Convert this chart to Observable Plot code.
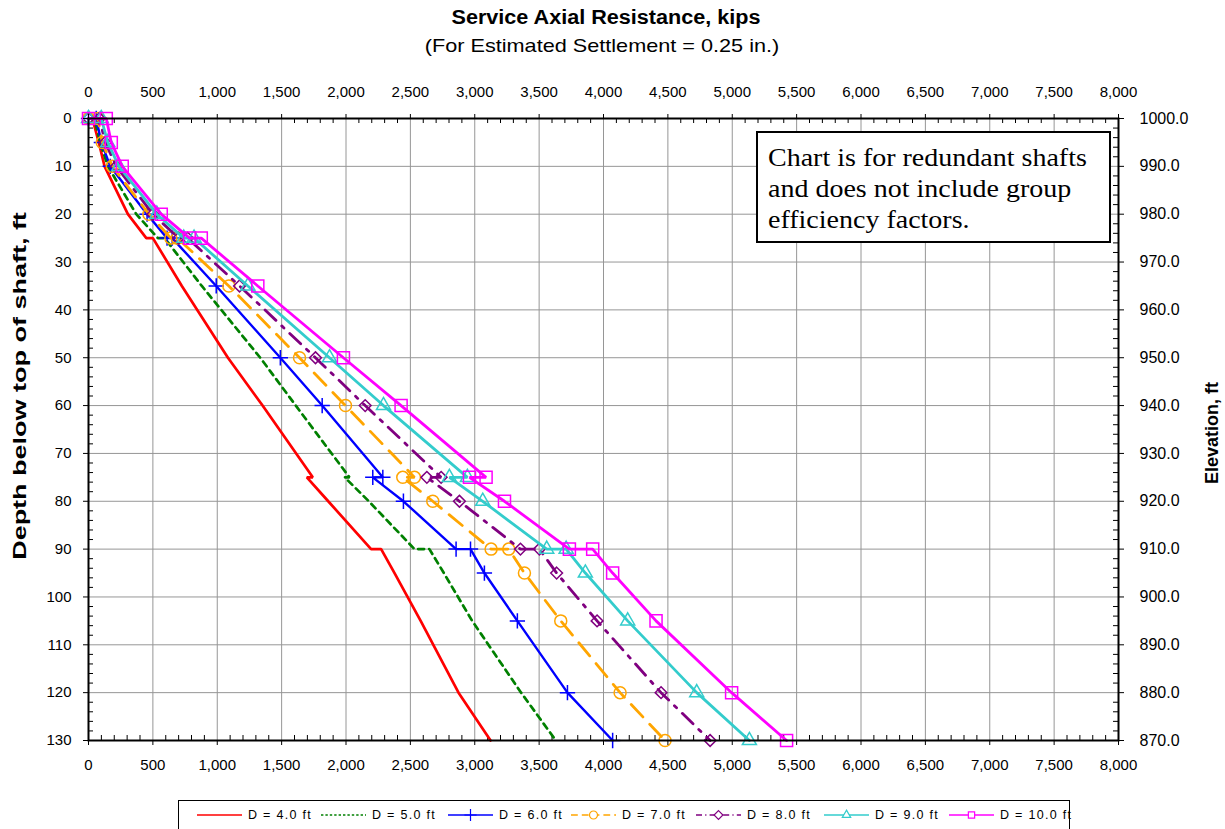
<!DOCTYPE html>
<html><head><meta charset="utf-8">
<script src="https://cdn.jsdelivr.net/npm/d3@7"></script>
<script src="https://cdn.jsdelivr.net/npm/@observablehq/plot@0.6"></script>
<style>
body{margin:0;background:#fff;font-family:"Liberation Sans",Arial,sans-serif;}
#wrap{position:relative;width:1225px;height:829px;overflow:hidden;background:#fff;}
#wrap svg.plot{position:absolute;left:0;top:0;}
.abs{position:absolute;white-space:nowrap;color:#000;}
#title{left:606px;top:17px;transform:translate(-50%,-50%) scale(1.08,1);font-weight:bold;font-size:20px;}
#subtitle{left:602px;top:46px;transform:translate(-50%,-50%) scale(1.14,1);font-size:19px;}
#ylab{left:20px;top:386px;transform:translate(-50%,-50%) rotate(-90deg) scale(1.42,1);font-weight:bold;font-size:19px;}
#ylab2{left:1212px;top:433px;transform:translate(-50%,-50%) rotate(-90deg);font-weight:bold;font-size:18px;}
#note{left:756px;top:131px;width:355px;height:112px;border:2px solid #000;background:#fff;font-family:"Liberation Serif","Times New Roman",serif;font-size:25px;line-height:31px;padding:9px 0 0 10px;box-sizing:border-box;}
#note span{display:inline-block;transform:scale(1.12,1);transform-origin:0 50%;}
#legend{left:178px;top:800px;width:892px;height:40px;border:1px solid #000;background:#fff;box-sizing:border-box;}
.li{position:absolute;top:6px;display:flex;align-items:center;font-size:12.5px;letter-spacing:1.3px;}
.li svg{margin-right:6px;}
</style></head><body><div id="wrap"></div>
<script>
// ---- data ----
const depthFt = [0, 0, 5, 10, 20, 25, 25, 35, 50, 60, 75, 75, 80, 90, 90, 95, 105, 120, 130];
const seriesNames = ["D = 4.0 ft", "D = 5.0 ft", "D = 6.0 ft", "D = 7.0 ft", "D = 8.0 ft", "D = 9.0 ft", "D = 10.0 ft"];
const kipsD4  = [0, 30, 80, 125, 306, 449, 500, 725, 1083, 1352, 1742, 1696, 1862, 2195, 2273, 2377, 2580, 2874, 3123];
const kipsD5  = [0, 45, 90, 151, 371, 539, 591, 880, 1334, 1610, 2027, 1990, 2177, 2532, 2648, 2760, 2980, 3360, 3630];
const kipsD6  = [0, 60, 100, 169, 455, 610, 650, 992, 1490, 1815, 2286, 2208, 2446, 2855, 2967, 3075, 3331, 3720, 4071];
const kipsD7  = [0, 73, 107, 185, 469, 640, 690, 1090, 1639, 1996, 2532, 2441, 2674, 3127, 3264, 3386, 3668, 4129, 4478];
const kipsD8  = [0, 85, 130, 216, 500, 700, 770, 1173, 1763, 2149, 2739, 2628, 2881, 3355, 3502, 3636, 3950, 4447, 4828];
const kipsD9  = [0, 99, 150, 236, 531, 740, 820, 1238, 1872, 2291, 2943, 2803, 3062, 3559, 3710, 3859, 4188, 4724, 5133];
const kipsD10 = [0, 138, 177, 262, 565, 785, 876, 1315, 1980, 2428, 3088, 2959, 3231, 3735, 3916, 4071, 4408, 4995, 5422];
const xTicks = [0,500,1000,1500,2000,2500,3000,3500,4000,4500,5000,5500,6000,6500,7000,7500,8000];
const yTicks = [0,10,20,30,40,50,60,70,80,90,100,110,120,130];
const elevLabels = ["1000.0","990.0","980.0","970.0","960.0","950.0","940.0","930.0","920.0","910.0","900.0","890.0","880.0","870.0"];
const noteLines = ["Chart is for redundant shafts", "and does not include group", "efficiency factors."];
const xMinor = d3.range(0, 8001, 100).filter(v => v % 500 !== 0);
const yMinor = d3.range(0, 131, 2).filter(v => v % 10 !== 0);

// ---- styles ----
const styles = [
  {color:"#FF0000", width:2.7, dash:null, symbol:null},
  {color:"#008000", width:2.7, dash:"6,5", symbol:null},
  {color:"#0000FF", width:2.4, dash:null, symbol:"plus"},
  {color:"#FFA500", width:2.8, dash:"17,10", symbol:"circle"},
  {color:"#800080", width:2.8, dash:"15,8,3,8", symbol:"diamond2"},
  {color:"#33CCCC", width:2.8, dash:null, symbol:"triangle"},
  {color:"#FF00FF", width:2.8, dash:null, symbol:"square"}
];
const symR = {plus:5, circle:6, diamond2:5.3, triangle:5.2, square:6.8};
const allKips = [kipsD4, kipsD5, kipsD6, kipsD7, kipsD8, kipsD9, kipsD10];
const series = seriesNames.map((name, s) => ({name, ...styles[s],
  rows: depthFt.map((d, i) => ({depth: d, kips: allKips[s][i]}))}));

const W = 1225, H = 829, mT = 118, mL = 88, mR = 107, mB = 89;
const pw = W - mL - mR, ph = H - mT - mB;

const marks = [
  Plot.gridX(xTicks, {stroke:"#969696", strokeOpacity:1, strokeWidth:1}),
  Plot.gridY(yTicks, {stroke:"#969696", strokeOpacity:1, strokeWidth:1}),
  Plot.tickX(xMinor, {x: d => d, insetBottom: ph - 5, stroke:"#000"}),
  Plot.tickX(xMinor, {x: d => d, insetTop: ph - 5, stroke:"#000"}),
  Plot.tickY(yMinor, {y: d => d, insetRight: pw - 5, stroke:"#000"}),
  Plot.tickY(yMinor, {y: d => d, insetLeft: pw - 5, stroke:"#000"})
];
for (const s of series) {
  marks.push(Plot.line(s.rows, {x:"kips", y:"depth", stroke:s.color, strokeWidth:s.width,
    strokeDasharray: s.dash || undefined, curve:"linear", strokeLinejoin:"miter"}));
  if (s.symbol) marks.push(Plot.dot(s.rows, {x:"kips", y:"depth", symbol: s.symbol, r: symR[s.symbol],
    stroke: s.color, fill:"none", strokeWidth: 1.5}));
}
marks.push(
  Plot.frame({stroke:"#000", strokeWidth:2}),
  Plot.axisX({anchor:"top", ticks:xTicks, tickSize:5, tickPadding:17, tickFormat:d3.format(","), label:null, fontSize:15}),
  Plot.axisX({anchor:"bottom", ticks:xTicks, tickSize:5, tickPadding:14, tickFormat:d3.format(","), label:null, fontSize:15}),
  Plot.axisY({anchor:"left", ticks:yTicks, tickSize:5, tickPadding:12, label:null, fontSize:15}),
  Plot.axisY({anchor:"right", ticks:yTicks, tickSize:5, tickPadding:16, label:null, fontSize:16,
    tickFormat: d => elevLabels[yTicks.indexOf(d)]})
);

const chart = Plot.plot({
  width: W, height: H, marginTop: mT, marginLeft: mL, marginRight: mR, marginBottom: mB,
  style: {fontFamily: "'Liberation Sans', Arial, sans-serif", fontSize: "15px", color:"#000", background:"transparent"},
  x: {domain:[0, 8000]},
  y: {domain:[0, 130], reverse:true},
  marks
});
chart.classList.add("plot");
const wrap = document.getElementById("wrap");
wrap.appendChild(chart);

function addDiv(id, html) { const d = document.createElement("div"); d.id = id; d.className = "abs"; d.innerHTML = html; wrap.appendChild(d); return d; }
addDiv("title", "Service Axial Resistance, kips");
addDiv("subtitle", "(For Estimated Settlement = 0.25 in.)");
addDiv("ylab", "Depth below top of shaft, ft");
addDiv("ylab2", "Elevation, ft");
const note = addDiv("note", "");
noteLines.forEach((t, i) => { const sp = document.createElement("span"); sp.textContent = t; note.appendChild(sp); if (i < noteLines.length - 1) note.appendChild(document.createElement("br")); });

// legend
const leg = addDiv("legend", "");
const legLeft = [18, 142, 269, 392, 517, 645, 770];
series.forEach((s, i) => {
  const item = document.createElement("div");
  item.className = "li"; item.style.left = legLeft[i] + "px";
  const sv = d3.create("svg").attr("width", 45).attr("height", 16);
  sv.append("line").attr("x1", 0).attr("x2", 45).attr("y1", 8).attr("y2", 8)
    .attr("stroke", s.color).attr("stroke-width", 1.5)
    .attr("stroke-dasharray", s.dash ? s.dash.split(",").map(v => Math.max(1, v * 0.4)).join(",") : null);
  if (s.symbol) {
    const t = {plus: d3.symbolPlus, circle: d3.symbolCircle, diamond2: d3.symbolDiamond2, triangle: d3.symbolTriangle2, square: d3.symbolSquare2}[s.symbol];
    sv.append("path").attr("transform", "translate(22.5,8)")
      .attr("d", d3.symbol(t, Math.PI * 16)()).attr("fill", "#fff").attr("stroke", s.color).attr("stroke-width", 1.2);
  }
  item.appendChild(sv.node());
  const sp = document.createElement("span"); sp.textContent = s.name; item.appendChild(sp);
  leg.appendChild(item);
});
</script></body></html>
